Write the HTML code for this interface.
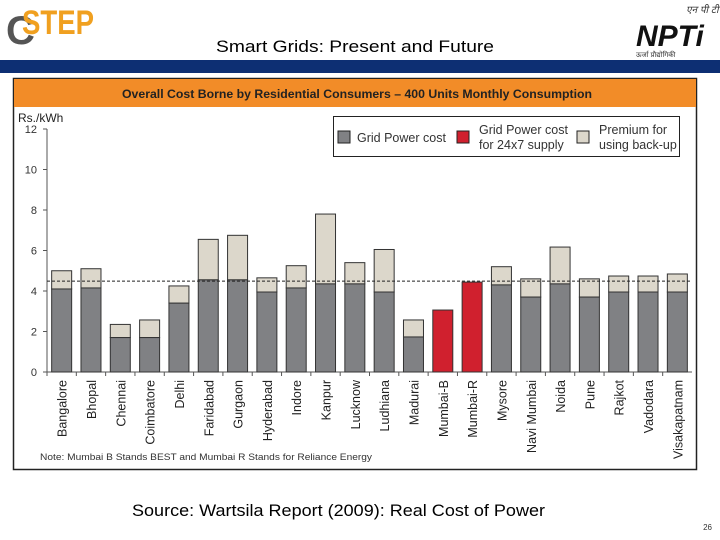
<!DOCTYPE html>
<html><head><meta charset="utf-8"><style>
body{margin:0;background:#fff;}
svg{display:block;font-family:"Liberation Sans",Arial,sans-serif;}
</style></head><body>
<svg id="c" width="720" height="540" viewBox="0 0 720 540">
<g>
<text x="6" y="44" font-size="40" font-weight="bold" fill="#555">C</text>
<text x="22" y="34" font-size="34" font-weight="bold" fill="#f0a020" textLength="72" lengthAdjust="spacingAndGlyphs">STEP</text>
</g>
<g>
<text x="686" y="13" font-size="10" font-style="italic" fill="#333">एन पी टी आई</text>
<text x="636" y="46" font-size="30" font-weight="bold" font-style="italic" fill="#111">NPTi</text>
<text x="636" y="57" font-size="7" fill="#333">ऊर्जा प्रौद्योगिकी</text>
</g>
<text x="216" y="52" font-size="17" textLength="278" lengthAdjust="spacingAndGlyphs" fill="#000">Smart Grids: Present and Future</text>
<rect x="0" y="60" width="720" height="13" fill="#0d2f73"/>
<rect x="13.5" y="78.5" width="683" height="391" fill="#fff" stroke="#222" stroke-width="1.5"/>
<rect x="14" y="79" width="682" height="28" fill="#f28c28"/>
<text x="122" y="98" font-size="11.5" font-weight="bold" textLength="470" lengthAdjust="spacingAndGlyphs" fill="#222">Overall Cost Borne by Residential Consumers – 400 Units Monthly Consumption</text>
<text x="18" y="122" font-size="12" fill="#222">Rs./kWh</text>
<g id="axes"></g>
<g id="bars"></g>
<g>
<rect x="333.5" y="116.5" width="346" height="40" fill="#fff" stroke="#222"/>
<rect x="338" y="131" width="12" height="12" fill="#808184" stroke="#222"/>
<text x="357" y="142" font-size="12.5" fill="#333">Grid Power cost</text>
<rect x="457" y="131" width="12" height="12" fill="#d0202e" stroke="#222"/>
<text x="479" y="134" font-size="12.5" fill="#333"><tspan x="479">Grid Power cost</tspan><tspan x="479" dy="15">for 24x7 supply</tspan></text>
<rect x="577" y="131" width="12" height="12" fill="#dcd7cb" stroke="#222"/>
<text x="599" y="134" font-size="12.5" fill="#333"><tspan x="599">Premium for</tspan><tspan x="599" dy="15">using back-up</tspan></text>
</g>
<text x="40" y="460" font-size="9.5" textLength="332" lengthAdjust="spacingAndGlyphs" fill="#333">Note: Mumbai B Stands BEST and Mumbai R Stands for Reliance Energy</text>
<text x="132" y="516" font-size="17" textLength="413" lengthAdjust="spacingAndGlyphs" fill="#000">Source: Wartsila Report (2009): Real Cost of Power</text>
<text x="712" y="530" font-size="8" text-anchor="end" fill="#333">26</text>
</svg>
<script>
const categories=["Bangalore","Bhopal","Chennai","Coimbatore","Delhi","Faridabad","Gurgaon","Hyderabad","Indore","Kanpur","Lucknow","Ludhiana","Madurai","Mumbai-B","Mumbai-R","Mysore","Navi Mumbai","Noida","Pune","Rajkot","Vadodara","Visakapatnam"];
const gridCost=[4.1,4.15,1.7,1.7,3.4,4.55,4.55,3.95,4.15,4.35,4.35,3.95,1.73,0,0,4.3,3.7,4.35,3.7,3.95,3.95,3.95];
const supply24x7=[0,0,0,0,0,0,0,0,0,0,0,0,0,3.06,4.44,0,0,0,0,0,0,0];
const totalWithBackup=[5.0,5.1,2.35,2.57,4.25,6.55,6.75,4.65,5.25,7.8,5.4,6.05,2.57,0,0,5.2,4.6,6.17,4.6,4.74,4.74,4.84];
const yTicks=[0,2,4,6,8,10,12];
const referenceLine=4.49;
const NS="http://www.w3.org/2000/svg";
const x0=47,x1=692,y0=372,yTop=129,yMax=12;
const step=(x1-x0)/categories.length;
function y(v){return y0-(v/yMax)*(y0-yTop);}
function xc(i){return x0+step*(i+0.5);}
function mk(tag,at,parent){const e=document.createElementNS(NS,tag);for(const k in at)e.setAttribute(k,at[k]);parent.appendChild(e);return e;}
const ax=document.getElementById('axes'),bg=document.getElementById('bars');
let a=mk('line',{x1:x0,y1:yTop,x2:x0,y2:y0,stroke:'#555'},ax);


a=mk('line',{x1:x0,y1:y0,x2:x1,y2:y0,stroke:'#555'},ax);


yTicks.forEach(t=>{
 mk('line',{x1:x0-4,y1:y(t),x2:x0,y2:y(t),stroke:'#555'},ax);
 const tx=mk('text',{x:x0-10,y:y(t)+4,'font-size':11,'text-anchor':'end',fill:'#333'},ax);
 tx.textContent=t;
 
 
});
categories.forEach((c,i)=>{
 mk('line',{x1:x0+step*i,y1:y0,x2:x0+step*i,y2:y0+4,stroke:'#555'},ax);
 const cx=xc(i),w=20;
 if(totalWithBackup[i]>0){
  const r=mk('rect',{x:cx-w/2,y:y(totalWithBackup[i]),width:w,height:y(gridCost[i])-y(totalWithBackup[i]),fill:'#dcd7cb',stroke:'#333','stroke-width':1},bg);
  
  
 }
 if(gridCost[i]>0){
  const r=mk('rect',{x:cx-w/2,y:y(gridCost[i]),width:w,height:y0-y(gridCost[i]),fill:'#808184',stroke:'#333','stroke-width':1},bg);
  
  
 }
 if(supply24x7[i]>0){
  const r=mk('rect',{x:cx-w/2,y:y(supply24x7[i]),width:w,height:y0-y(supply24x7[i]),fill:'#d0202e',stroke:'#333','stroke-width':1},bg);
  
  
 }
 const t=mk('text',{x:0,y:0,'font-size':12.5,'text-anchor':'end',fill:'#222',transform:`translate(${cx+5},380) rotate(-90)`},ax);
 t.textContent=c;
 
 
});
const rl=mk('line',{x1:x0,y1:y(referenceLine),x2:x1,y2:y(referenceLine),stroke:'#222','stroke-dasharray':'3,2'},bg);


</script>
</body></html>
